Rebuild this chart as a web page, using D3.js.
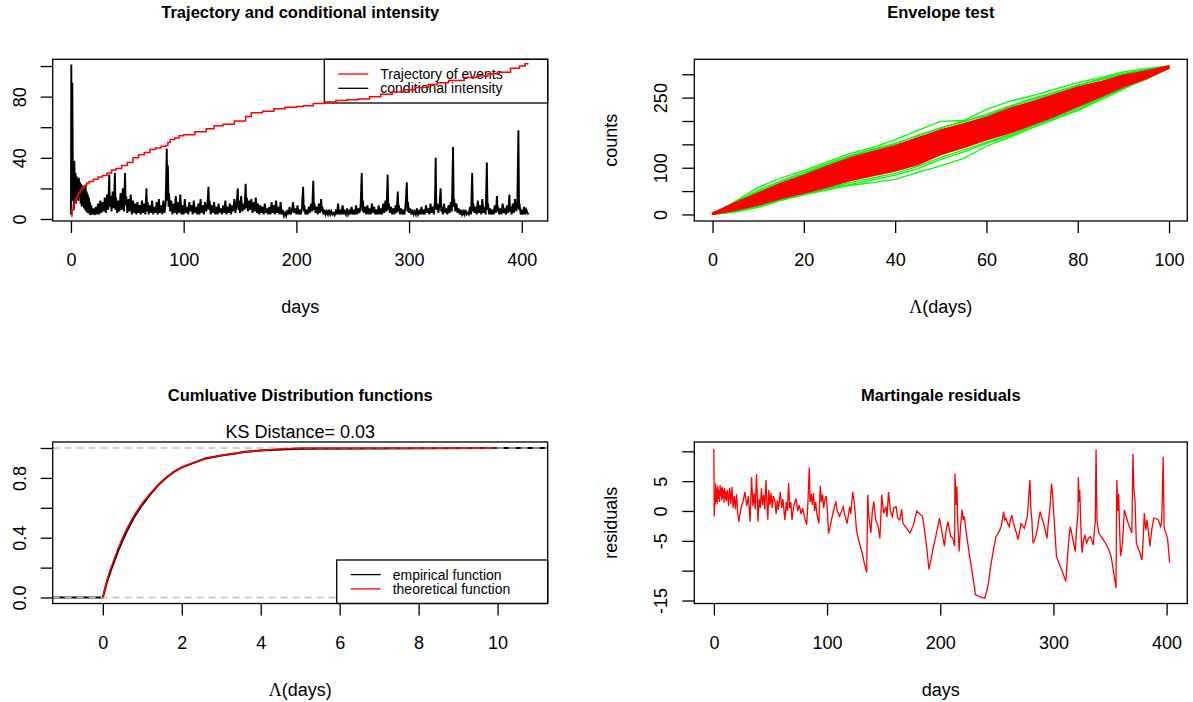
<!DOCTYPE html>
<html>
<head>
<meta charset="utf-8">
<script src="https://cdn.jsdelivr.net/npm/d3@7"></script>
<style>
    body { margin: 0; background: #fff; }
    svg { font-family: "Liberation Sans", Arial, sans-serif; }
</style>
</head>
<body>
<script>

// ---- panel 1: trajectory of events and conditional intensity ----
let trajectory = [[0,2],[1,6],[2,9],[3,11],[4,13],[5,14.5],[6,16],[7,17],[8,18.5],[9,19.5],[10,20.5],[12,22],[14,23.5],[16,24.5],[20,26],[24,27.5],[28,28.5],[32,30],[36,32],[40,33],[45,35],[50,37],[55,40],[60,42],[65,43.5],[70,45.5],[75,46.5],[80,47.5],[84,48],[86,50],[88,52],[92,53],[96,54.5],[100,55],[110,57],[120,59],[127,61],[135,62],[145,64],[155,67],[160,69.5],[170,70.5],[180,72],[190,73],[200,73.5],[206,74],[215,75.5],[225,76.5],[235,77.5],[245,78],[255,78.5],[265,80],[275,81.5],[285,83],[295,84.5],[305,86],[317,88],[325,89],[335,90.5],[349,92.5],[360,93.5],[370,95],[380,96],[390,98.5],[398,100],[403,101.5],[406,101.5]];

let intensity = [[0,3],[0.3,101],[0.8,20],[1.2,89],[1.8,12],[2.2,25],[2.6,6],[3,38],[3.5,18],[4,30],[4.5,10],[5,28],[5.5,14],[6,26],[6.5,12],[7,27],[7.5,15],[8,24],[8.6,10],[9,23],[9.6,8],[10,22],[10.6,9],[11,21],[11.6,7],[12,20],[12.6,6],[13,22],[13.6,5],[14,18],[14.6,4],[15,16],[15.6,4],[16,14],[16.6,3],[17,11],
[17.5,2.5],[18,9],[19,3],[20,7],[21,2.5],[22,8],[23,3],[24,10],[25,3],[26,12],[27,4],[28,11],[29,5],[30,14],[31,4],[32,16],[33,6],[34,29],[34.5,8],[35,15],[36,5],[37,18],[38,7],[39,30],[39.5,6],[40,14],[41,4],[42,12],[43,5],[44,17],[45,6],[46,20],[47,5],[48,30],[48.5,9],[49,15],[50,4],[51,13],[52,5],[53,16],[54,3],[55,12],[56,4],[57,10],[58,3],[59,11],[60,4],[61,9],[62,3],[63,12],[64,4],[65,10],[66,3],[67,20],[67.5,5],[68,11],[69,3],[70,9],[71,4],[72,12],[73,3],[74,8],[75,4],[76,11],[77,3],[78,13],[79,4],[80,9],[81,3],[82,12],[83,4],[84,10],[85,46],[85.6,12],[86,35],[86.6,8],[87,17],[88,5],[89,12],[90,3],[91,10],[92,4],[93,15],[94,3],[95,11],[96,4],[97,16],[98,3],[99,9],[100,3],
[101,13],[102,4],[103,8],[104,3],[105,11],[106,5],[107,9],[108,3],[109,12],[110,4],[111,8],[112,3],[113,10],[114,3],[115,13],[116,4],[117,9],[118,3],[119,11],[120,5],[121,8],[122,21],[122.6,6],[123,12],[124,3],[125,9],[126,4],[127,11],[128,3],[129,8],[130,3],[131,10],[132,4],[133,7],[134,3],[135,9],[136,4],[137,12],[138,3],[139,8],[140,4],[141,10],[142,3],[143,9],[144,5],[145,13],[146,4],[147,10],[148,20],[148.6,6],[149,12],[150,4],[151,15],[152,5],[153,10],[154,6],[155,23],[155.6,7],[156,14],[157,5],[158,12],[159,6],[160,13],[161,4],[162,11],[163,5],[164,14],[165,4],[166,10],[167,3],[168,9],[169,4],[170,8],[171,3],[172,10],[173,4],[174,7],[175,3],[176,8],[177,3],[178,11],[179,4],[180,9],[181,3],[182,12],[183,4],[184,8],[185,3],[186,11],[187,3],[188,6],[189,2],[190,4],[191,2],[192,6],[193,3],[194,8],[195,3],[196,5],[197,11],[198,4],[199,7],[200,3],
[201,9],[202,3],[203,6],[204,3],[205,8],[206,21],[206.6,5],[207,9],[208,3],[209,6],[210,3],[211,8],[212,4],[213,10],[214,5],[215,25],[215.6,6],[216,10],[217,4],[218,8],[219,3],[220,10],[221,4],[222,13],[222.6,5],[223,8],[224,3],[225,6],[226,3],[227,5],[228,3],[229,6],[230,3],[231,5],[232,3],[233,4],[234,2.5],[235,5],[236,3],[237,10],[238,3],[239,6],[240,3],[241,9],[242,3],[243,5],[244,3],[245,7],[246,3],[247,5],[248,3],[249,8],[250,3],[251,6],[252,3],[253,9],[254,3],[255,7],[256,4],[257,9],[258,30],[258.6,5],[259,12],[260,4],[261,8],[262,3],[263,9],[264,3],[265,7],[266,3],[267,10],[268,4],[269,8],[270,3],[271,6],[272,3],[273,9],[274,3],[275,7],[276,3],[277,10],[278,4],[279,12],[280,5],[281,29],[281.6,6],[282,10],[283,4],[284,8],[285,3],[286,7],[287,3],[288,9],[289,4],[290,18],[290.6,5],[291,9],[292,3],[293,7],[294,3],[295,6],[296,3],[297,10],[298,24],[298.6,5],[299,11],[300,4],
[301,7],[302,3],[303,6],[304,3],[305,5],[306,3],[307,7],[308,3],[309,5],[310,3],[311,8],[312,3],[313,6],[314,3],[315,9],[316,4],[317,7],[318,3],[319,10],[320,4],[321,8],[322,3],[323,12],[323.6,40],[324.2,6],[325,10],[326,4],[327,9],[328,20],[328.6,5],[329,8],[330,3],[331,10],[332,4],[333,7],[334,3],[335,9],[336,4],[337,11],[338,5],[339,47],[339.6,8],[340,13],[341,5],[342,10],[343,4],[344,7],[345,3],[346,6],[347,3],[348,5],[349,3],[350,6],[351,3],[352,4],[353,3],[354,8],[355,3],[356,30],[356.6,5],[357,10],[358,4],[359,8],[360,3],[361,12],[362,4],[363,9],[364,3],[365,13],[366,4],[367,8],[368,3],[369,37],[369.6,6],[370,10],[371,3],[372,7],[373,3],[374,6],[375,3],[376,9],[377,4],[378,15],[378.6,5],[379,8],[380,3],[381,7],[382,3],[383,10],[384,4],[385,6],[386,3],[387,9],[388,4],[389,16],[389.6,5],[390,8],[391,3],[392,10],[393,4],[394,13],[395,5],[396,8],[397,58],[397.6,6],[398,10],[399,3],[400,5],[401,3],[402,8],[403,3],[404,6],[405,4],[406,3]];

// ---- panel 2: envelope test ----
let envLambda = [0,5,10,15,20,25,30,35,40,45,50,55,60,65,70,75,80,85,90,95,100];
let envRedUpper = [3,25,46,67,84,103,121,135,147,164,181,194,208,227,241,257,273,284,298,307,318];
let envRedLower = [0,9,20,34,46,58,72,83,93,107,128,143,160,174,192,210,231,252,273,291,313];
let envGreen = [
    [0,28,58,78,94,112,130,143,160,180,199,201,225,242,254,268,282,293,305,312,318],
    [0,26,52,72,90,108,126,140,152,168,186,198,214,232,248,262,277,290,302,310,318],
    [0,25,49,70,87,106,124,138,150,170,184,200,211,230,245,260,276,288,300,309,318],
    [0,5,15,30,42,52,62,68,75,90,104,120,146,165,185,205,222,245,268,292,313],
    [0,6,17,31,43,55,64,74,84,98,118,134,152,168,186,204,224,248,270,290,313],
    [0,7,18,32,44,56,68,78,88,103,122,138,155,171,189,207,227,250,271,289,314]
];

// ---- panel 3: cumulative distribution functions ----
let cdfX = [0,0.1,0.25,0.5,0.75,1,1.25,1.5,1.75,2,2.5,3,3.5,4.1,5.05,10];
let cdfTheo = [0,0.11,0.23,0.4,0.53,0.63,0.71,0.78,0.83,0.87,0.92,0.95,0.97,0.985,1,1];
let ecdfX = [0,0.05,0.1,0.2,0.3,0.4,0.5,0.6,0.7,0.8,0.9,1.0,1.2,1.4,1.6,1.8,2.0,2.3,2.6,3.0,3.4,3.6,4.1,5.0,10.0];
let ecdfY = [0,0.05,0.1,0.18,0.25,0.32,0.38,0.44,0.49,0.54,0.58,0.62,0.69,0.75,0.8,0.84,0.87,0.9,0.93,0.95,0.965,0.975,0.985,0.995,1.0];

// ---- panel 4: martingale residuals ----
let residuals = [[0,10.4],[0.3,-0.9],[0.8,3],[1.2,1],[1.6,4.6],[2,1.5],[2.5,3.8],[3,1.2],[3.5,4.2],[4,2],[4.5,3.5],[5,1.5],[5.5,4.3],[6,2.5],[6.5,3.9],[7,1.8],[7.5,4],[8,2.2],[8.5,3.6],[9,1.4],[9.5,3.8],[10,2],[10.5,3.3],[11,1.6],[12,3.5],[13,0.8],[14,3.9],[15,1.2],[16,4],[17,0.5],[18,2.5],[19,0.3],[20,2.8],[21,-0.1],[22,-1.8],[24,0.5],[26,1.8],[27.5,3.2],[29,0.8],[30.5,2.5],[32,-1.8],[33.3,5.7],[34.5,0.8],[35.5,3],[36.5,0.3],[37.7,6.2],[39,-1.8],[40,2],[41,0.5],[42,3.8],[43,1],[44,2.7],[45,0.2],[46,5.2],[46.8,1.5],[47.7,-1.5],[48.5,3.5],[49.5,1],[50.5,3],[51.5,0.5],[52.5,2.5],[54,1.6],[55,-0.5],[56,1.8],[57,0.2],[58.7,3.2],[60,0.5],[61,2],[62.7,-1.5],[64,1.5],[65,0],[66,4.7],[67,0.5],[68,1.5],[69,-1.5],[70.5,0.8],[72.7,2.1],[74,0],[75.5,1],[77,-0.5],[78.5,0.5],[80,-1],[82,-2.3],[83,1],[84.3,7.3],[85,1.5],[86,2.9],[87,1],[88,3],[89,0],[90,1.5],[91,-0.5],[92.7,-2.1],[94,4.2],[95,1.5],[96,2.8],[97,0.5],[98,1.8],[99.3,2.5],[100.3,0],[101.3,-3.8],[103.3,-2.1],[105,-0.5],[107.7,1.6],[109,0],[111,-0.9],[114.3,0.7],[115.5,-0.5],[117.7,-2.1],[120,0.7],[121,-0.5],[122.7,3.2],[124,1.5],[126,-3.2],[128,-5],[131,-7],[133,-8.8],[135,-10.3],[136,2.7],[137,-1],[138.7,-3.7],[140,-0.1],[141.3,1.6],[143,-1.5],[145,-2.5],[146.7,-4.6],[148.3,2.7],[150,-0.4],[152,0.7],[153,-1],[154.3,3.2],[156,0],[157.7,-0.9],[159,0.5],[161,0.7],[162.5,-1.2],[164.3,-1.5],[166,0.3],[167,-2.1],[170,-2.8],[173.3,-3.7],[176,-2.5],[179.3,0],[182,-0.5],[184.3,-0.9],[186,-3],[188,-6],[190,-9.8],[192,-8],[194,-6],[196,-4.3],[198,-2.5],[199.3,-1.2],[201,-3],[203.7,-5.9],[205,-3.5],[206.7,-1.8],[208,-3],[209.3,-4.3],[211,-4.5],[212.7,-5.9],[213,6.3],[214.2,1],[214.7,4.1],[215.5,-2],[216.7,-6.8],[218,-2.5],[219.3,0.2],[220.3,-1.5],[221.3,-0.9],[222.7,-3.2],[224,-5],[226,-7.6],[228,-10],[230,-12.5],[231,-14],[234,-14.3],[237,-14.5],[239.3,-14.6],[241,-13.5],[242.7,-12],[244,-10],[246,-7.6],[247.5,-6],[249.3,-4.3],[251,-3.8],[252.7,-3.2],[254,-2.5],[256,-0.1],[257,-1.5],[258,-1.2],[259.5,-2],[261,-2.6],[262,-1.5],[263.3,-0.7],[264.5,-1.8],[266,-2.9],[267.5,-3.8],[268.7,-4.8],[270,-3.5],[271.3,-2.1],[273,-2.5],[274.3,-2.9],[275.5,-2],[277,-0.9],[278.3,2.7],[279.3,5.2],[280,0.5],[281,-1.5],[282,-5.4],[284,-4.5],[286,-2.9],[287,-1.5],[288.3,-0.1],[289.5,-1],[291,-1.8],[292.5,-3],[294.3,-4.6],[295.5,-2],[297,0.7],[298.3,4.6],[299.3,2.7],[300.5,-1],[302.7,-7.6],[305,-8.8],[308,-10.2],[311,-11.8],[312.7,-7],[314,-4],[315,-2.6],[316.7,-4.3],[318,-5.5],[319.3,-6.8],[320.5,-3],[321.7,-0.4],[322,5.7],[322.6,1.5],[323.3,3.5],[324.3,-3],[325.3,-7],[326.5,-5],[327.7,-4],[329.3,-5.4],[331,-4.5],[332.7,-4.3],[334,-5],[335.3,-5.7],[336.3,-3],[337,-1.8],[337.7,10.3],[338.5,-1.5],[340,-3.7],[343,-4.5],[346,-5.4],[349,-6.5],[351,-7.6],[353,-10],[355.3,-12.9],[356,5.2],[356.8,0],[357.7,2.9],[358.5,-3],[359.3,-7.6],[361,-5.4],[362,-2],[362.7,0.2],[364.3,-0.9],[366,-2],[368,-3],[369.3,-3.7],[370.3,9.6],[371,4],[372,2.1],[373.3,-5.4],[376,-6.8],[378.3,-8.2],[379.5,-4],[380.3,-0.4],[381.7,-3.2],[382.7,-1.5],[384,-3.5],[385.3,-5.9],[387,-3],[388.7,-1.2],[390.5,-1.3],[392.7,-1.5],[394.7,-2.6],[395.5,-2],[396,0.7],[397,9.1],[397.8,-2.5],[398.3,-3.2],[400,-4],[401,-4.8],[402.7,-8.7]];

// tick values and the labels R kept
let p1XTicks = [0,100,200,300,400], p1YTicks = [0,20,40,60,80,100], p1YLabels = [0,40,80];
let p2XTicks = [0,20,40,60,80,100], p2YTicks = [0,50,100,150,200,250,300], p2YLabels = [0,100,250];
let p3XTicks = [0,2,4,6,8,10], p3YTicks = [0,0.2,0.4,0.6,0.8,1], p3YLabels = [0,0.4,0.8];
let p4XTicks = [0,100,200,300,400], p4YTicks = [-15,-10,-5,0,5,10], p4YLabels = [-15,-5,0,5];


const svg = d3.select("body").append("svg")
    .attr("width", 1193)
    .attr("height", 702);

const RED = "#FF0000", GREEN = "#00FF00", GREY = "#BEBEBE";

function makePanel(id, box, xDom, yDom) {
    let p = {box: box, id: id};
    p.g = svg.append("g");
    p.x = d3.scaleLinear().domain(xDom).range([box.left, box.right]);
    p.y = d3.scaleLinear().domain(yDom).range([box.bottom, box.top]);

    svg.append("clipPath").attr("id", id)
        .append("rect")
        .attr("x", box.left).attr("y", box.top)
        .attr("width", box.right - box.left).attr("height", box.bottom - box.top);
    p.plot = p.g.append("g").attr("clip-path", `url(#${id})`);
    return p;
}

function drawFrame(p, o) {
    let b = p.box;
    let cx = (b.left + b.right) / 2;

    p.g.append("rect")
        .attr("x", b.left).attr("y", b.top)
        .attr("width", b.right - b.left).attr("height", b.bottom - b.top)
        .attr("fill", "none").attr("stroke", "#000").attr("stroke-width", 1.3);

    let xa = p.g.append("g")
        .attr("transform", `translate(0,${b.bottom})`)
        .call(d3.axisBottom(p.x).tickValues(o.xTicks).tickSize(12).tickFormat(d => String(d)));
    xa.select(".domain").remove();
    xa.selectAll("line").attr("stroke", "#000").attr("stroke-width", 1.3);
    xa.selectAll("text").attr("y", 45).attr("dy", 0)
        .attr("fill", "#000").style("font-size", "18px");

    let ya = p.g.append("g")
        .attr("transform", `translate(${b.left},0)`)
        .call(d3.axisLeft(p.y).tickValues(o.yTicks).tickSize(12)
            .tickFormat(d => o.yLabels.includes(d) ? o.fmt(d) : ""));
    ya.select(".domain").remove();
    ya.selectAll("line").attr("stroke", "#000").attr("stroke-width", 1.3);
    ya.selectAll("text")
        .attr("transform", "rotate(-90)")
        .attr("x", 0).attr("y", -27).attr("dy", 0)
        .attr("text-anchor", "middle")
        .attr("fill", "#000").style("font-size", "18px");

    // title
    svg.append("text")
        .attr("x", cx).attr("y", b.top - 41)
        .attr("text-anchor", "middle")
        .style("font-size", "16.5px").style("font-weight", "bold")
        .text(o.title);

    // x axis title
    let xl = svg.append("text")
        .attr("x", cx).attr("y", b.bottom + 92)
        .attr("text-anchor", "middle")
        .style("font-size", "18px");
    if (o.lambda) {
        xl.append("tspan").style("font-family", "'Liberation Serif', 'DejaVu Serif', serif").text("\u039B");
        xl.append("tspan").text("(days)");
    } else {
        xl.text(o.xLabel);
    }

    if (o.yLabel) {
        svg.append("text")
            .attr("transform", `translate(${b.left - 77},${(b.top + b.bottom) / 2}) rotate(-90)`)
            .attr("text-anchor", "middle")
            .style("font-size", "18px")
            .text(o.yLabel);
    }
}

function drawLegend(p, lg) {
    let b = p.box;
    let g = p.g.append("g");
    g.append("rect")
        .attr("x", lg.left).attr("y", lg.top)
        .attr("width", b.right - lg.left).attr("height", lg.bottom - lg.top)
        .attr("fill", "#fff").attr("stroke", "#000").attr("stroke-width", 1.3);
    let mid = (lg.top + lg.bottom) / 2;
    lg.items.forEach((it, i) => {
        let yy = mid + (i - 0.5) * 14.3;
        g.append("line")
            .attr("x1", lg.left + 14).attr("x2", lg.left + 44)
            .attr("y1", yy).attr("y2", yy)
            .attr("stroke", it.color).attr("stroke-width", 1.3);
        g.append("text")
            .attr("x", lg.left + 56).attr("y", yy).attr("dy", "0.36em")
            .style("font-size", "14px")
            .text(it.label);
    });
}


// ================= panel 1 =================
let p1 = makePanel("clip1", {left: 52.7, right: 547.7, top: 59.3, bottom: 221}, [-16.2, 423], [-1.3, 104.4]);

p1.plot.append("path")
    .datum(intensity)
    .attr("fill", "none").attr("stroke", "#000").attr("stroke-width", 1.9)
    .attr("stroke-linejoin", "miter")
    .attr("d", d3.line().x(d => p1.x(d[0])).y(d => p1.y(d[1])));

drawLegend(p1, {left: 324.3, top: 59.3, bottom: 103, items: [
    {label: "Trajectory of events", color: RED},
    {label: "conditional intensity", color: "#000"}
]});

// the trajectory was drawn after the legend, so it runs over it
p1.g.append("g").attr("clip-path", "url(#clip1)")
    .append("path")
    .datum(trajectory)
    .attr("fill", "none").attr("stroke", RED).attr("stroke-width", 1.5)
    .attr("d", d3.line().curve(d3.curveStepAfter).x(d => p1.x(d[0])).y(d => p1.y(d[1])));

drawFrame(p1, {xTicks: p1XTicks, yTicks: p1YTicks, yLabels: p1YLabels, fmt: d => String(d),
    title: "Trajectory and conditional intensity", xLabel: "days"});


// ================= panel 2 =================
let p2 = makePanel("clip2", {left: 694.3, right: 1187.3, top: 59.3, bottom: 221}, [-4, 104], [-14, 332]);

envGreen.forEach(tr => {
    p2.plot.append("path")
        .datum(tr)
        .attr("fill", "none").attr("stroke", GREEN).attr("stroke-width", 1.3)
        .attr("d", d3.line().x((d, i) => p2.x(envLambda[i])).y(d => p2.y(d)));
});

p2.plot.append("path")
    .datum(envLambda)
    .attr("fill", RED).attr("stroke", RED).attr("stroke-width", 1.5)
    .attr("d", d3.area()
        .x(d => p2.x(d))
        .y0((d, i) => p2.y(envRedLower[i]))
        .y1((d, i) => p2.y(envRedUpper[i])));

drawFrame(p2, {xTicks: p2XTicks, yTicks: p2YTicks, yLabels: p2YLabels, fmt: d => String(d),
    title: "Envelope test", lambda: true, yLabel: "counts"});


// ================= panel 3 =================
let p3 = makePanel("clip3", {left: 52.7, right: 547.7, top: 442, bottom: 603.5}, [-1.27, 11.27], [-0.04, 1.04]);

// empirical cdf, extended to the plot edges like plot.ecdf
let ecdfPts = [[p3.x.domain()[0], 0]].concat(ecdfX.map((v, i) => [v, ecdfY[i]]));
ecdfPts.push([p3.x.domain()[1], 1]);
p3.plot.append("path")
    .datum(ecdfPts)
    .attr("fill", "none").attr("stroke", "#000").attr("stroke-width", 2)
    .attr("d", d3.line().x(d => p3.x(d[0])).y(d => p3.y(d[1])));

[0, 1].forEach(h => {
    p3.plot.append("line")
        .attr("x1", p3.box.left).attr("x2", p3.box.right)
        .attr("y1", p3.y(h)).attr("y2", p3.y(h))
        .attr("stroke", GREY).attr("stroke-width", 1.3).attr("stroke-dasharray", "7,5");
});

p3.plot.append("path")
    .datum(cdfX.map((v, i) => [v, cdfTheo[i]]))
    .attr("fill", "none").attr("stroke", RED).attr("stroke-width", 1.5)
    .attr("d", d3.line().curve(d3.curveMonotoneX).x(d => p3.x(d[0])).y(d => p3.y(d[1])));

drawLegend(p3, {left: 336.7, top: 560, bottom: 603.5, items: [
    {label: "empirical function", color: "#000"},
    {label: "theoretical function", color: RED}
]});

drawFrame(p3, {xTicks: p3XTicks, yTicks: p3YTicks, yLabels: p3YLabels, fmt: d3.format(".1f"),
    title: "Cumluative Distribution functions", lambda: true});

svg.append("text")
    .attr("x", (p3.box.left + p3.box.right) / 2).attr("y", 438)
    .attr("text-anchor", "middle")
    .style("font-size", "18px")
    .text("KS Distance= 0.03");


// ================= panel 4 =================
let p4 = makePanel("clip4", {left: 694.3, right: 1187.3, top: 442, bottom: 603.5}, [-17.3, 418.3], [-15.5, 11.56]);

p4.plot.append("path")
    .datum(residuals)
    .attr("fill", "none").attr("stroke", RED).attr("stroke-width", 1.3)
    .attr("d", d3.line().x(d => p4.x(d[0])).y(d => p4.y(d[1])));

drawFrame(p4, {xTicks: p4XTicks, yTicks: p4YTicks, yLabels: p4YLabels, fmt: d => String(d),
    title: "Martingale residuals", xLabel: "days", yLabel: "residuals"});

</script>
</body>
</html>
